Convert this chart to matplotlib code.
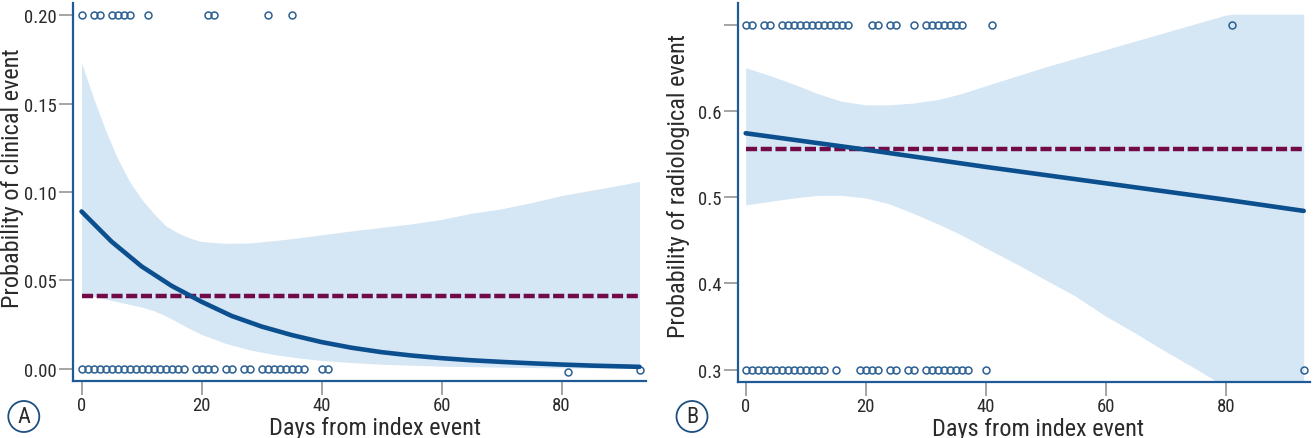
import matplotlib
matplotlib.use("Agg")
import matplotlib.pyplot as plt
from matplotlib.patches import Ellipse
from matplotlib import font_manager
import numpy as np

# pick a condensed sans font if one is installed
_fonts = font_manager.fontManager.ttflist
_names = {f.name for f in _fonts}
FAMILY = None
STRETCH = 'normal'
for cand in ['Liberation Sans Narrow', 'Roboto Condensed', 'Open Sans Condensed',
             'Noto Sans Condensed', 'DejaVu Sans Condensed']:
    if cand in _names:
        FAMILY = cand
        break
if FAMILY is None:
    cond = [f for f in _fonts if f.name == 'DejaVu Sans' and
            str(f.stretch) in ('condensed', 'semi-condensed', '87.5', '75')]
    if cond:
        FAMILY = 'DejaVu Sans'
        STRETCH = 'condensed'
NARROW = FAMILY is not None
if FAMILY is None:
    FAMILY = 'Liberation Sans'

plt.rcParams['font.family'] = [FAMILY, 'DejaVu Sans']
plt.rcParams['font.stretch'] = STRETCH
plt.rcParams['lines.scale_dashes'] = False

TICK_FS = 13.5 if NARROW else 12.5
LAB_FS = 17.5 if NARROW else 15
LET_FS = 16 if NARROW else 15

# ---------------- Panel A data (clinical event) ----------------
a_event_days = [0, 2, 3, 5, 6, 7, 8, 11, 21, 22, 31, 35]
a_event_y = [0.2] * len(a_event_days)
a_noevent_days = list(range(0, 18)) + [19, 20, 21, 22, 24, 25, 27, 28] + \
    list(range(30, 38)) + [40, 41, 81, 93]
a_noevent_y = [0.0] * (len(a_noevent_days) - 2) + [-0.0015, -0.0006]

a_fit_days = [0, 5, 10, 15, 20, 25, 30, 35, 40, 45, 50, 55, 60, 65, 70, 75, 80, 85, 93]
a_fit_prob = [0.089, 0.072, 0.058, 0.047, 0.038, 0.030, 0.024, 0.0192, 0.0152,
              0.0120, 0.0095, 0.0076, 0.0061, 0.0049, 0.0040, 0.0032, 0.0025, 0.0019, 0.0012]

a_ci_days = [0, 2, 4, 6, 8, 10, 12, 14, 16, 18, 20, 24, 28, 32, 36, 40, 45, 50,
             55, 60, 65, 70, 75, 80, 85, 90, 93]
a_ci_upper = [0.173, 0.153, 0.135, 0.119, 0.106, 0.096, 0.088, 0.081, 0.077, 0.074,
              0.072, 0.071, 0.0712, 0.0725, 0.074, 0.0758, 0.078, 0.080, 0.082,
              0.0845, 0.088, 0.0905, 0.094, 0.098, 0.101, 0.104, 0.106]
a_ci_lower = [0.042, 0.041, 0.0395, 0.038, 0.0365, 0.035, 0.033, 0.030, 0.0265, 0.0228,
              0.0195, 0.0145, 0.0108, 0.0082, 0.0063, 0.0048, 0.0036, 0.0027,
              0.0021, 0.0016, 0.0013, 0.0010, 0.0008, 0.0006, 0.0005, 0.0004, 0.0003]
a_mean = 0.041

# ---------------- Panel B data (radiological event) ----------------
b_event_days = [0, 1, 3, 4] + list(range(6, 18)) + [21, 22, 24, 25, 28] + \
    list(range(30, 37)) + [41, 81]
b_event_y = [0.7] * len(b_event_days)
b_noevent_days = list(range(0, 14)) + [15, 19, 20, 21, 22, 24, 25, 27, 28] + \
    list(range(30, 38)) + [40, 93]
b_noevent_y = [0.3] * len(b_noevent_days)

b_fit_days = [0, 20, 40, 60, 80, 93]
b_fit_prob = [0.574, 0.555, 0.535, 0.516, 0.497, 0.484]

b_ci_days = [0, 4, 8, 12, 16, 20, 24, 28, 32, 36, 40, 45, 50, 55, 60, 65, 70, 75,
             80, 81, 93]
b_ci_upper = [0.650, 0.641, 0.631, 0.620, 0.611, 0.607, 0.607, 0.609, 0.613, 0.620,
              0.629, 0.640, 0.651, 0.661, 0.671, 0.681, 0.691, 0.701, 0.711, 0.712, 0.712]
b_ci_lower = [0.491, 0.495, 0.499, 0.502, 0.502, 0.499, 0.492, 0.481, 0.469, 0.456,
              0.441, 0.423, 0.404, 0.385, 0.362, 0.342, 0.321, 0.301, 0.280, 0.276, 0.227]
b_mean = 0.556

a_yticks = [0.00, 0.05, 0.10, 0.15, 0.20]
a_yticklabels = ['0.00', '0.05', '0.10', '0.15', '0.20']
b_yticks = [0.3, 0.4, 0.5, 0.6, 0.7]
b_yticklabels = ['0.3', '0.4', '0.5', '0.6', '']
xticks = [0, 20, 40, 60, 80]

# ---------------- Styling ----------------
W, H = 1315, 439
BAND = '#d5e6f5'
LINE = '#0c4f8e'
DASH = '#730a48'
PT = '#2b5f92'
SPINE = '#1d5a96'
TICK = '#8c8c8c'
TXT = '#2a2a2a'

fig = plt.figure(figsize=(W / 100, H / 100), dpi=100)


def make_axes(left_px, right_px, top_px, bottom_px):
    return fig.add_axes([left_px / W, 1 - bottom_px / H,
                         (right_px - left_px) / W, (bottom_px - top_px) / H])


def style(ax, xlim, ylim, yticks, yticklabels, ylabel, ylab_xy, xlab_xy):
    ax.set_xlim(*xlim)
    ax.set_ylim(*ylim)
    for s in ['top', 'right']:
        ax.spines[s].set_visible(False)
    for s in ['left', 'bottom']:
        ax.spines[s].set_color(SPINE)
        ax.spines[s].set_linewidth(1.6)
    ax.set_xticks(xticks)
    ax.set_xticklabels([str(t) for t in xticks])
    ax.set_yticks(yticks)
    ax.set_yticklabels(yticklabels)
    ax.tick_params(axis='both', colors=TICK, width=1.1, length=10,
                   labelsize=TICK_FS, labelcolor=TXT)
    ax.tick_params(axis='x', pad=1)
    ax.tick_params(axis='y', pad=2)
    ax.set_ylabel(ylabel, fontsize=LAB_FS, color=TXT)
    ax.yaxis.set_label_coords(*ylab_xy)
    ax.set_xlabel('Days from index event', fontsize=LAB_FS, color=TXT)
    ax.xaxis.set_label_coords(*xlab_xy)


def draw(ax, ci_days, ci_lo, ci_hi, ev_d, ev_y, nev_d, nev_y, mean, fit_d, fit_p):
    ax.fill_between(ci_days, ci_lo, ci_hi, color=BAND, lw=0, zorder=1)
    ax.plot(ev_d, ev_y, 'o', ms=5, mfc='none', mec=PT, mew=1.1, zorder=2, clip_on=False)
    ax.plot(nev_d, nev_y, 'o', ms=5, mfc='none', mec=PT, mew=1.1, zorder=2, clip_on=False)
    xs = ev_d + nev_d
    ax.hlines(mean, min(xs), max(xs), colors=DASH, lw=3.2,
              linestyles=(0, (8, 2.6)), zorder=3)
    ax.plot(fit_d, fit_p, color=LINE, lw=3.3, solid_capstyle='round', zorder=4)


axA = make_axes(73, 645.5, 4, 382)
draw(axA, a_ci_days, a_ci_lower, a_ci_upper, a_event_days, a_event_y,
     a_noevent_days, a_noevent_y, a_mean, a_fit_days, a_fit_prob)
style(axA, (-1.42, 94.0), (-0.0068, 0.2068), a_yticks, a_yticklabels,
      'Probability of clinical event', (-0.085, 0.538), (0.5275, -0.093))

axB = make_axes(737.7, 1310, 4, 382.7)
draw(axB, b_ci_days, b_ci_lower, b_ci_upper, b_event_days, b_event_y,
     b_noevent_days, b_noevent_y, b_mean, b_fit_days, b_fit_prob)
style(axB, (-1.33, 94.05), (0.286, 0.725), b_yticks, b_yticklabels,
      'Probability of radiological event', (-0.083, 0.519), (0.5247, -0.093))

# Panel letters in circles
for cx, letter in [(23.8, 'A'), (692, 'B')]:
    cy = 417.5
    fig.add_artist(Ellipse((cx / W, 1 - cy / H), 31 / W, 31 / H,
                           transform=fig.transFigure, fill=False,
                           edgecolor='#1d4f80', lw=1.3))
    fig.text(cx / W, 1 - cy / H, letter, ha='center', va='center',
             fontsize=LET_FS, color=TXT)

fig.savefig('out.png', dpi=100)
